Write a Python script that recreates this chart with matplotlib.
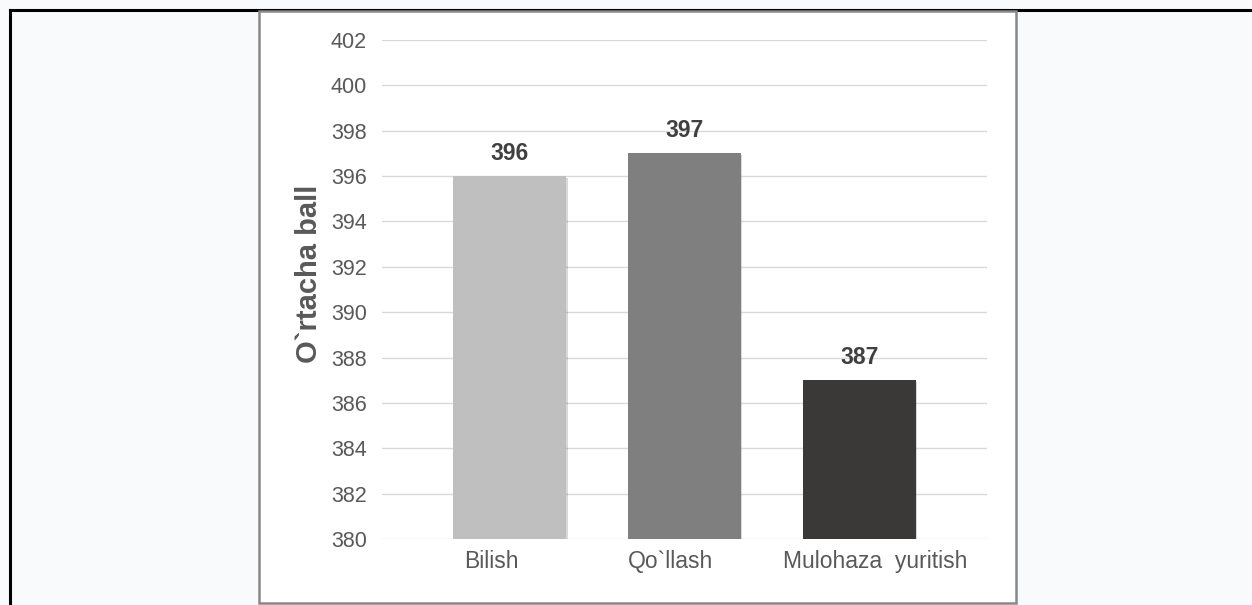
import matplotlib.pyplot as plt
import matplotlib.patheffects as pe
import matplotlib.transforms as mtransforms
from matplotlib.patches import Rectangle
from matplotlib.lines import Line2D

categories = ["Bilish", "Qo`llash", "Mulohaza  yuritish"]
values = [396, 397, 387]
colors = ["#bfbfbf", "#7f7f7f", "#3a3938"]
yticks = list(range(380, 403, 2))

plt.rcParams['font.family'] = ['Liberation Sans', 'DejaVu Sans']

W, H = 1252, 605
fig = plt.figure(figsize=(W / 100, H / 100), dpi=100)
fig.patch.set_facecolor("#f9fafc")

# outer black border (left and top)
fig.add_artist(Line2D([10 / W, 10 / W], [0, 1 - 10 / H], color="black", lw=2.2, zorder=-1))
fig.add_artist(Line2D([10 / W, 1], [1 - 10 / H, 1 - 10 / H], color="black", lw=2.2, zorder=-1))

# white chart box, drawn behind the axes
fig.add_artist(Rectangle((259 / W, 1 - 603 / H), (1016 - 259) / W, (603 - 11) / H,
                         facecolor="white", edgecolor="#888888", lw=1.8, zorder=-1))

ax = fig.add_axes([382 / W, (H - 539) / H, (987 - 382) / W, (539 - 40) / H])
ax.set_facecolor("none")

x = range(len(categories))
bars = ax.bar(x, [v - 380 for v in values], bottom=380, width=0.65, color=colors, zorder=3)
for b in bars:
    b.set_path_effects([pe.SimplePatchShadow(offset=(0.8, -1.2), shadow_rgbFace="k", alpha=0.15),
                        pe.Normal()])

for b, v in zip(bars, values):
    ax.annotate(str(v), (b.get_x() + b.get_width() / 2, v), xytext=(0, 11.5),
                textcoords="offset points", ha="center", va="baseline",
                fontsize=16.5, fontweight="bold", color="#404040")

ax.set_ylim(380, 402)
ax.set_xlim(-0.73, 2.73)
ax.set_yticks(yticks)
ax.set_xticks(list(x))
ax.set_xticklabels(categories)
ax.grid(axis="y", color="#d9d9d9", lw=1, zorder=0)
for s in ax.spines.values():
    s.set_visible(False)
ax.tick_params(axis="y", length=0, labelsize=15.5, colors="#595959", pad=11)
ax.tick_params(axis="x", length=0, labelsize=16.5, colors="#595959", pad=8)

# the category labels in the original sit a little off the bar centres
for lbl, dx in zip(ax.get_xticklabels(), [-18, -14, 16]):
    lbl.set_transform(lbl.get_transform() + mtransforms.ScaledTranslation(dx / 100, 0, fig.dpi_scale_trans))

ax.set_ylabel("O`rtacha ball", fontsize=21, fontweight="bold", color="#595959")
ax.yaxis.set_label_coords(-0.098, 0.531)

fig.savefig("out.png", dpi=100, facecolor=fig.get_facecolor())
